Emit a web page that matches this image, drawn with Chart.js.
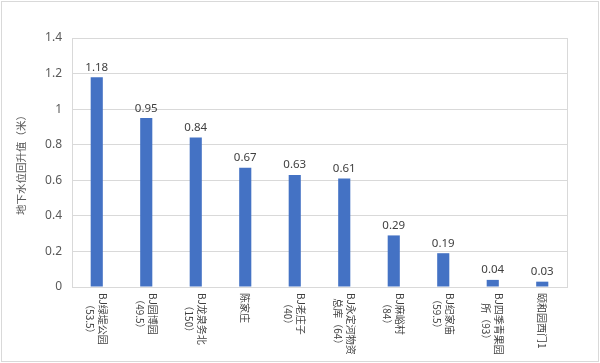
<!DOCTYPE html>
<html>
<head>
<meta charset="utf-8">
<script src="https://cdn.jsdelivr.net/npm/chart.js@4.4.1/dist/chart.umd.min.js"></script>
<style>
  html, body { margin: 0; padding: 0; background: #fff; }
  #wrap { width: 600px; height: 363px; position: relative; }
</style>
</head>
<body>
<div id="wrap"><canvas id="c" width="600" height="363"></canvas></div>
<script>
// Category labels (each inner array = wrapped lines)
const categories = [
  ["BJ绿堤公园", "（53.5）"],
  ["BJ园博园", "（49.5）"],
  ["BJ龙泉务北", "（150）"],
  ["陈家庄"],
  ["BJ老庄子", "（40）"],
  ["BJ永定河物资", "总库（64）"],
  ["BJ麻峪村", "（84）"],
  ["BJ纪家庙", "（59.5）"],
  ["BJ四季青果园", "所（93）"],
  ["颐和园西门1"]
];
const values = [1.18, 0.95, 0.84, 0.67, 0.63, 0.61, 0.29, 0.19, 0.04, 0.03];
const valueLabels = ["1.18", "0.95", "0.84", "0.67", "0.63", "0.61", "0.29", "0.19", "0.04", "0.03"];
const yTickValues = [0, 0.2, 0.4, 0.6, 0.8, 1, 1.2, 1.4];
const yTickLabels = ["0", "0.2", "0.4", "0.6", "0.8", "1", "1.2", "1.4"];
const yTitle = "地下水位回升值（米）";

const frame = {
  id: 'frame',
  beforeDraw(chart) {
    const ctx = chart.ctx;
    ctx.save();
    ctx.fillStyle = '#ffffff';
    ctx.fillRect(0, 0, chart.width, chart.height);
    ctx.strokeStyle = '#d9d9d9';
    ctx.lineWidth = 1;
    ctx.strokeRect(1.5, 1.5, chart.width - 3, chart.height - 3);
    ctx.restore();
  },
  afterDraw(chart) {
    const ctx = chart.ctx;
    const a = chart.chartArea;
    ctx.save();
    // plot area border
    ctx.strokeStyle = '#d9d9d9';
    ctx.lineWidth = 1;
    ctx.strokeRect(Math.round(a.left) + 0.5, Math.round(a.top) + 0.5,
                   Math.round(a.right - a.left), Math.round(a.bottom - a.top));
    // data labels
    const meta = chart.getDatasetMeta(0);
    ctx.fillStyle = '#404040';
    ctx.font = '11.5px "Noto Sans", "Open Sans", sans-serif';
    ctx.textAlign = 'center';
    ctx.textBaseline = 'bottom';
    meta.data.forEach((bar, i) => {
      ctx.fillText(valueLabels[i], bar.x, bar.y - 4);
    });
    // rotated category labels (clockwise)
    const xs = chart.scales.x;
    ctx.font = '10px "Noto Sans CJK SC", sans-serif';
    ctx.fillStyle = '#404040';
    const lineH = 13;
    const top = a.bottom + 6;
    categories.forEach((lines, i) => {
      const cx = xs.getPixelForTick(i);
      const maxW = Math.max(...lines.map(l => ctx.measureText(l).width));
      const cy = top + maxW / 2;
      ctx.save();
      ctx.translate(cx, cy);
      ctx.rotate(Math.PI / 2);
      ctx.textAlign = 'center';
      ctx.textBaseline = 'middle';
      const n = lines.length;
      lines.forEach((l, k) => {
        // local -y maps to screen +x, so first line goes rightmost
        const off = (k - (n - 1) / 2) * lineH;
        ctx.fillText(l, 0, off);
      });
      ctx.restore();
    });
    ctx.restore();
  }
};

new Chart(document.getElementById('c'), {
  type: 'bar',
  data: {
    labels: categories.map(c => c.join('')),
    datasets: [{
      data: values,
      backgroundColor: '#4472C4',
      borderWidth: 0,
      barPercentage: 0.5,
      categoryPercentage: 0.49
    }]
  },
  options: {
    responsive: false,
    animation: false,
    devicePixelRatio: 1,
    layout: { padding: { left: 0, right: 33, top: 38, bottom: 0 } },
    plugins: {
      legend: { display: false },
      tooltip: { enabled: false }
    },
    scales: {
      x: {
        grid: { display: false },
        border: { display: true, color: '#d9d9d9' },
        ticks: { display: false },
        afterFit(s) { s.height = 76; }
      },
      y: {
        min: 0,
        max: 1.4,
        afterBuildTicks(s) { s.ticks = yTickValues.map(v => ({ value: v })); },
        ticks: {
          padding: 10,
          color: '#595959',
          font: { family: '"Noto Sans", "Open Sans", sans-serif', size: 12 },
          callback(v, i) { return yTickLabels[i]; }
        },
        grid: { color: '#d9d9d9', drawTicks: false },
        border: { display: false },
        title: {
          display: true,
          text: yTitle,
          color: '#595959',
          font: { family: '"Noto Sans CJK SC", sans-serif', size: 10.5 },
          padding: { top: 15, bottom: 0 }
        },
        afterFit(s) { s.width = 72; }
      }
    }
  },
  plugins: [frame]
});
</script>
</body>
</html>
